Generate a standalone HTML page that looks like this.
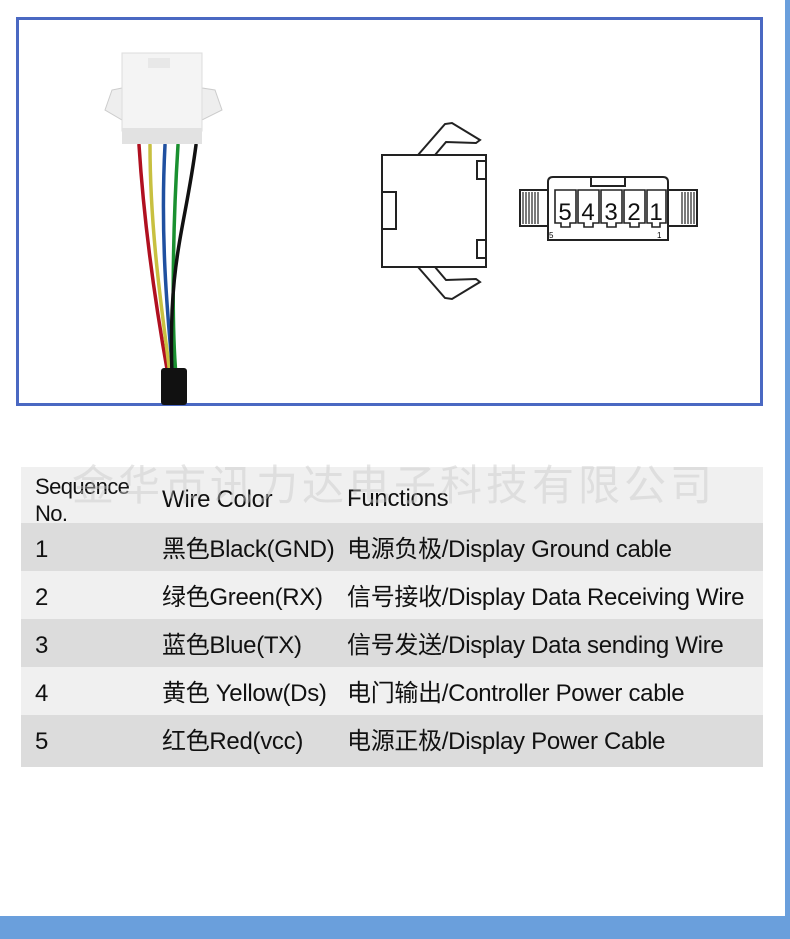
<!DOCTYPE html>
<html><head><meta charset="utf-8"><style>
body{margin:0;width:790px;height:939px;background:#fff;position:relative;overflow:hidden;font-family:"Liberation Sans","Noto Sans CJK SC",sans-serif;}
.frame{position:absolute;left:16px;top:17px;width:741px;height:383px;border:3px solid #4a68c2;}
.rs{position:absolute;left:785px;top:0;width:5px;height:939px;background:#6a9fdc;}
.bb{position:absolute;left:0;top:916px;width:790px;height:23px;background:#6a9fdc;}
.tbl{position:absolute;left:21px;top:467px;width:742px;}
.row{position:relative;height:48px;font-size:24px;color:#111;letter-spacing:-0.3px;}
.row span{position:absolute;top:2px;line-height:50px;white-space:nowrap;}
.d{background:#dcdcdc}.l{background:#f0f0f0}
.wm{position:absolute;left:72px;top:452px;font-size:42px;color:rgba(200,200,200,0.45);font-family:"Noto Sans CJK SC",sans-serif;letter-spacing:4px;white-space:nowrap;}
</style></head><body>
<div class="frame"></div>
<div class="rs"></div><div class="bb"></div>
<svg width="790" height="420" style="position:absolute;left:0;top:0">
 <g fill="none" stroke-width="3.5" stroke-linecap="round">
  <path d="M139 145 C145 240 160 330 168 375" stroke="#b01020"/>
  <path d="M150 145 C150 240 165 330 170 375" stroke="#c8c040"/>
  <path d="M165 145 C160 240 168 320 173 375" stroke="#2050a0"/>
  <path d="M178 145 C172 240 172 330 176 375" stroke="#1a9030"/>
  <path d="M196 145 C185 230 168 260 172 375" stroke="#111"/>
 </g>
 <rect x="161" y="368" width="26" height="37" fill="#111" rx="3"/>
 <path d="M105 110 L112 90 L122 88 L122 120 Z" fill="#eee" stroke="#ccc"/>
 <path d="M222 110 L215 90 L202 88 L202 120 Z" fill="#eee" stroke="#ccc"/>
 <rect x="122" y="53" width="80" height="78" fill="#f4f4f4" stroke="#ddd"/>
 <rect x="122" y="128" width="80" height="16" fill="#e2e2e2"/>
 <rect x="148" y="58" width="22" height="10" fill="#e8e8e8"/>
 <g fill="#fff" stroke="#222" stroke-width="2">
  <path d="M418 155 L445 124 L452 123 L480 140 L476 143 L446 142 L435 155"/>
  <path d="M418 267 L445 298 L452 299 L480 282 L476 279 L446 280 L435 267"/>
  <rect x="382" y="155" width="104" height="112"/>
  <rect x="477" y="161" width="9" height="18"/>
  <rect x="477" y="240" width="9" height="18"/>
  <rect x="382" y="192" width="14" height="37"/>
 </g>
 <g stroke="#222" stroke-width="2" fill="#fff">
  <rect x="520" y="190" width="28" height="36"/>
  <rect x="668" y="190" width="29" height="36"/>
  <path d="M548 240 L548 182 Q548 177 553 177 L663 177 Q668 177 668 182 L668 240 Z"/>
  <rect x="591" y="177" width="34" height="9"/>
 </g>
 <g stroke="#222" stroke-width="1.2">
  <path d="M523 192v32M526 192v32M529 192v32M532 192v32M535 192v32M538 192v32M682 192v32M685 192v32M688 192v32M691 192v32M694 192v32"/>
 </g>
 <g fill="#fff" stroke="#222" stroke-width="1.6">
  <path d="M555 190h21v33h-6v4h-9v-4h-6z"/>
  <path d="M578 190h21v33h-6v4h-9v-4h-6z"/>
  <path d="M601 190h21v33h-6v4h-9v-4h-6z"/>
  <path d="M624 190h21v33h-6v4h-9v-4h-6z"/>
  <path d="M647 190h19v33h-6v4h-8v-4h-5z"/>
 </g>
 <g font-family="Liberation Sans" font-size="24" fill="#111" text-anchor="middle">
  <text x="565" y="220">5</text><text x="588" y="220">4</text><text x="611" y="220">3</text><text x="634" y="220">2</text><text x="656" y="220">1</text>
 </g>
 <text x="549" y="238" font-size="8" font-family="Liberation Sans">5</text>
 <text x="657" y="238" font-size="8" font-family="Liberation Sans">1</text>
</svg>
<div class="tbl">
 <div class="row l" style="height:56px"><span style="left:14px;top:6px;line-height:27px;font-size:22px;letter-spacing:-0.6px">Sequence<br>No.</span><span style="left:141px;top:8px">Wire Color</span><span style="left:326px;top:7px">Functions</span></div>
 <div class="row d"><span style="left:14px">1</span><span style="left:141px">黑色Black(GND)</span><span style="left:326px">电源负极/Display Ground cable</span></div>
 <div class="row l"><span style="left:14px">2</span><span style="left:141px">绿色Green(RX)</span><span style="left:326px">信号接收/Display Data Receiving Wire</span></div>
 <div class="row d"><span style="left:14px">3</span><span style="left:141px">蓝色Blue(TX)</span><span style="left:326px">信号发送/Display Data sending Wire</span></div>
 <div class="row l"><span style="left:14px">4</span><span style="left:141px">黄色 Yellow(Ds)</span><span style="left:326px">电门输出/Controller Power cable</span></div>
 <div class="row d" style="height:52px"><span style="left:14px">5</span><span style="left:141px">红色Red(vcc)</span><span style="left:326px">电源正极/Display Power Cable</span></div>
</div>
<div class="wm">金华市讯力达电子科技有限公司</div>
</body></html>
